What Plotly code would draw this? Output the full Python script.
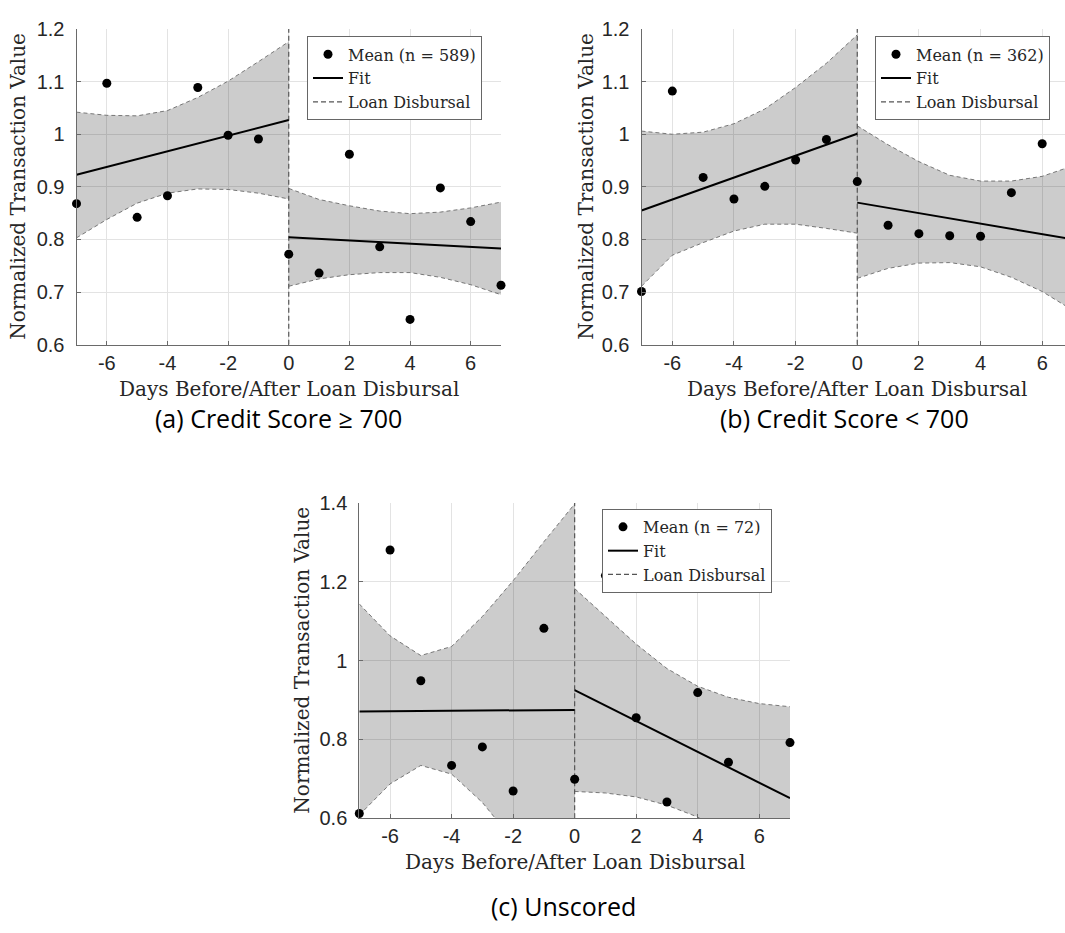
import plotly.graph_objects as go

W, H = 1065, 933

days = list(range(-7, 8))
days_pre = list(range(-7, 1))
days_post = list(range(0, 8))
x_ticks = [-6, -4, -2, 0, 2, 4, 6]

# (a) Credit Score >= 700
a_days = days
a_mean = [0.868, 1.097, 0.842, 0.883, 1.089, 0.998, 0.991, 0.772,
          0.736, 0.962, 0.786, 0.648, 0.898, 0.834, 0.713]
a_fit_pre = [0.923, 1.027]
a_fit_post = [0.804, 0.783]
a_upper_pre = [1.042, 1.036, 1.035, 1.045, 1.070, 1.101, 1.138, 1.176]
a_lower_pre = [0.803, 0.838, 0.869, 0.888, 0.896, 0.895, 0.888, 0.877]
a_upper_post = [0.897, 0.876, 0.864, 0.854, 0.849, 0.852, 0.860, 0.871]
a_lower_post = [0.711, 0.725, 0.733, 0.737, 0.737, 0.728, 0.714, 0.695]

# (b) Credit Score < 700
b_days = list(range(-7, 7))
b_mean = [0.701, 1.082, 0.918, 0.877, 0.901, 0.951, 0.990, 0.910,
          0.827, 0.811, 0.807, 0.806, 0.889, 0.982]
b_fit_pre = [0.855, 1.001]
b_fit_post = [0.870, 0.800]
b_upper_pre = [1.006, 1.000, 1.004, 1.020, 1.048, 1.089, 1.135, 1.189]
b_lower_pre = [0.711, 0.770, 0.794, 0.816, 0.829, 0.829, 0.821, 0.812]
b_upper_post = [1.016, 0.980, 0.948, 0.922, 0.911, 0.911, 0.920, 0.940]
b_lower_post = [0.726, 0.745, 0.755, 0.756, 0.748, 0.728, 0.701, 0.665]

# (c) Unscored
c_days = [-7, -6, -5, -4, -3, -2, -1, 0, 1, 2, 3, 4, 5, 7]
c_mean = [0.612, 1.281, 0.949, 0.734, 0.781, 0.669, 1.082, 0.699,
          1.216, 0.855, 0.641, 0.919, 0.742, 0.792]
c_fit_pre = [0.871, 0.875]
c_fit_post = [0.925, 0.651]
c_upper_pre = [1.144, 1.063, 1.013, 1.036, 1.112, 1.203, 1.302, 1.398]
c_lower_pre = [0.608, 0.687, 0.734, 0.712, 0.640, 0.543, 0.446, 0.352]
c_upper_post = [1.183, 1.112, 1.042, 0.980, 0.935, 0.907, 0.891, 0.883]
c_lower_post = [0.668, 0.664, 0.654, 0.633, 0.603, 0.551, 0.489, 0.419]

captions = ["(a) Credit Score \u2265 700", "(b) Credit Score < 700", "(c) Unscored"]
n_obs = [589, 362, 72]

SERIF = "DejaVu Serif, Liberation Serif, serif"
SANS = "Liberation Sans, Arial, sans-serif"
CAPTION_FONT = "Open Sans, Noto Sans, sans-serif"
TEXT = "#262626"
AXIS = "#6a6a6a"
GRID = "#e3e3e3"
BAND_FILL = "rgba(0,0,0,0.2)"
BAND_EDGE = "#6a6a6a"


def px(x):
    return x / W


def py(y):
    return 1 - y / H


# plot boxes in pixels: left, right, top, bottom
panels = [
    dict(box=(76.5, 501, 18.5, 341.7), xr=[-7, 7], yr=[0.6, 1.2], dy=0.1,
         ylab_x=18, xlab=(288.5, 387), cap=(278, 417), legend=(307, 26)),
    dict(box=(641.5, W, 18.5, 341.7), xr=[-7, 6.74], yr=[0.6, 1.2], dy=0.1,
         ylab_x=586, xlab=(857.3, 387), cap=(844, 417), legend=(875, 26)),
    dict(box=(359.3, 790, 504, 826.7), xr=[-7, 7], yr=[0.6, 1.4], dy=0.2,
         ylab_x=302, xlab=(574.5, 872), cap=(563, 917), legend=(602, 510)),
]

series = [
    (a_days, a_mean, a_fit_pre, a_fit_post, a_upper_pre, a_lower_pre, a_upper_post, a_lower_post),
    (b_days, b_mean, b_fit_pre, b_fit_post, b_upper_pre, b_lower_pre, b_upper_post, b_lower_post),
    (c_days, c_mean, c_fit_pre, c_fit_post, c_upper_pre, c_lower_pre, c_upper_post, c_lower_post),
]

fig = go.Figure()
layout = {}
annotations = []

for i, (p, s) in enumerate(zip(panels, series), start=1):
    sfx = "" if i == 1 else str(i)
    xa, ya, lg = "x" + sfx, "y" + sfx, "legend" + sfx
    d, mean, fit_pre, fit_post, up_pre, lo_pre, up_post, lo_post = s

    # confidence bands
    for xs, up, lo in [(days_pre, up_pre, lo_pre), (days_post, up_post, lo_post)]:
        edge = dict(color=BAND_EDGE, width=0.9, dash="4px,3px")
        fig.add_trace(go.Scatter(x=xs, y=up, mode="lines", line=edge, showlegend=False,
                                 hoverinfo="skip", xaxis=xa, yaxis=ya))
        fig.add_trace(go.Scatter(x=xs, y=lo, mode="lines", line=edge, fill="tonexty",
                                 fillcolor=BAND_FILL, showlegend=False, hoverinfo="skip",
                                 xaxis=xa, yaxis=ya))

    fig.add_trace(go.Scatter(x=[0, 0], y=p["yr"], mode="lines", name="Loan Disbursal",
                             line=dict(color="#555555", width=1.2, dash="5px,3px"),
                             legend=lg, legendrank=3, xaxis=xa, yaxis=ya))
    fig.add_trace(go.Scatter(x=[days_pre[0], days_pre[-1]], y=fit_pre, mode="lines", name="Fit",
                             line=dict(color="black", width=2), legend=lg, legendrank=2,
                             xaxis=xa, yaxis=ya))
    fig.add_trace(go.Scatter(x=[days_post[0], days_post[-1]], y=fit_post, mode="lines",
                             line=dict(color="black", width=2), showlegend=False,
                             xaxis=xa, yaxis=ya))
    fig.add_trace(go.Scatter(x=d, y=mean, mode="markers", name=f"Mean (n = {n_obs[i - 1]})",
                             marker=dict(color="black", size=9), cliponaxis=False,
                             legend=lg, legendrank=1, xaxis=xa, yaxis=ya))

    l, r, t, b = p["box"]
    tickfont = dict(family=SANS, size=20, color=TEXT)
    layout["xaxis" + sfx] = dict(
        domain=[px(l), px(r)], range=p["xr"], anchor=ya, tickvals=x_ticks,
        ticktext=[str(v) for v in x_ticks], showgrid=True, gridcolor=GRID,
        showline=True, linecolor=AXIS, ticks="inside", ticklen=4, tickcolor=AXIS,
        zeroline=False, ticklabelstandoff=0, tickfont=tickfont)
    layout["yaxis" + sfx] = dict(
        domain=[py(b), py(t)], range=p["yr"], anchor=xa, dtick=p["dy"], tick0=0.6,
        showgrid=True, gridcolor=GRID, showline=True, linecolor=AXIS,
        ticks="inside", ticklen=4, tickcolor=AXIS, zeroline=False, ticklabelstandoff=7,
        tickfont=tickfont)

    lx, ly = p["legend"]
    layout[lg] = dict(x=px(lx), y=py(ly), xanchor="left", yanchor="top",
                      bgcolor="white", bordercolor="#666666", borderwidth=1,
                      font=dict(family=SERIF, size=16, color=TEXT),
                      tracegroupgap=0, traceorder="normal")

    annotations.append(dict(text="Days Before/After Loan Disbursal",
                            x=px(p["xlab"][0]), y=py(p["xlab"][1]),
                            xanchor="center", yanchor="middle"))
    annotations.append(dict(text="Normalized Transaction Value", x=px(p["ylab_x"]),
                            y=py((t + b) / 2), xanchor="center", yanchor="middle",
                            textangle=-90))
    annotations.append(dict(text=captions[i - 1], x=px(p["cap"][0]), y=py(p["cap"][1]),
                            xanchor="center", yanchor="middle",
                            font=dict(family=CAPTION_FONT, size=25, color="black")))

for a in annotations:
    a.update(xref="paper", yref="paper", showarrow=False)
    a.setdefault("font", dict(family=SERIF, size=20, color=TEXT))

fig.update_layout(
    width=W, height=H, margin=dict(l=0, r=0, t=0, b=0),
    paper_bgcolor="white", plot_bgcolor="white",
    annotations=annotations, **layout)

fig.write_html("out.html", config={"displayModeBar": False},
               post_script="document.body.style.margin='0px';"
                           "document.body.style.overflow='hidden';")
